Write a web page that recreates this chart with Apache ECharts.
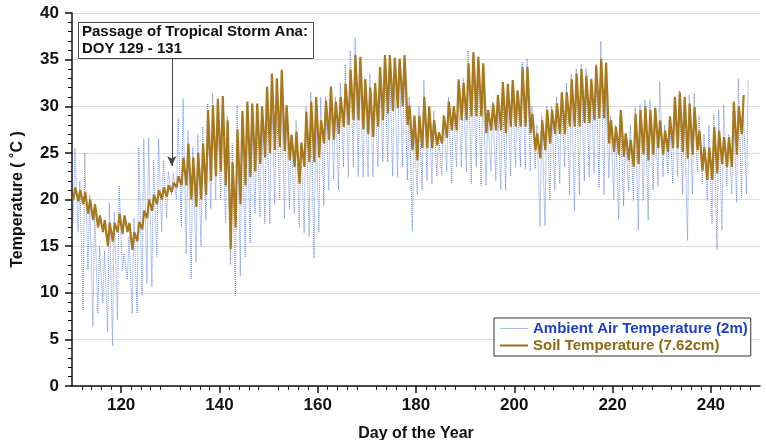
<!DOCTYPE html>
<html>
<head>
<meta charset="utf-8">
<script src="https://cdn.jsdelivr.net/npm/echarts@6/dist/echarts.min.js"></script>
<style>
  html, body { margin: 0; padding: 0; background: #fff; }
  #chart { width: 766px; height: 440px; }
</style>
</head>
<body>
<div id="chart"></div>
<script>
// daily lows / highs, first day = 110
const firstDay = 110;

const airLow = [
  17.5, 16.5, 8.1, 12.5, 6.4, 7.8, 8.9, 5.8, 4.3, 7.1,
  12.4, 11.4, 7.8, 7.8, 9.7, 11, 10.6, 13.9, 16.5, 18,
  20.5, 20, 17, 14.2, 11.5, 13.3, 15, 17.8, 19, 20,
  20, 17.5, 13, 9.6, 11.8, 13.8, 15.3, 18.5, 18.1, 17.4,
  17.4, 19.5, 20, 18, 19, 18.5, 17, 16.4, 16, 13.7,
  16.5, 19.4, 21, 22.2, 21, 23.5, 22.4, 23.5, 22.5, 22.4,
  22.4, 22.4, 23.5, 24, 24, 22.5, 22.4, 23.5, 22.1, 16.6,
  20.5, 21, 22, 21.7, 22.5, 22.6, 23, 21.7, 23.5, 23.5,
  23, 21.7, 23.5, 21.5, 21.5, 23, 22, 21, 21, 22.5,
  23.5, 23.5, 23.3, 23, 23.3, 17.1, 17.2, 19.9, 21, 21.7,
  23.5, 20.5, 18.8, 20.5, 22, 22.4, 22.8, 21.3, 20.5, 22.3,
  20, 17.9, 19.3, 20.9, 19.9, 16.7, 19.9, 17.8, 21, 21.4,
  22.4, 22.8, 21.7, 22.4, 20.6, 15.6, 20.6, 23, 21.7, 19.9,
  17.4, 14.6, 16.7, 21.4, 20.6, 19.7, 20.2, 20.6
];
const airHigh = [
  25.5, 22, 25, 20.5, 19.2, 15, 14.5, 19.6, 18.7, 21.4,
  14.2, 16, 18, 25.6, 26.5, 26.6, 24.2, 26.5, 24.2, 23,
  22.8, 28.7, 30.8, 27.4, 25.6, 27, 27.8, 30.3, 31.4, 30.8,
  29.8, 28.9, 26, 30.1, 29, 30, 29, 28, 29, 31,
  32, 31, 33, 30, 27, 28.5, 26, 30, 31.5, 29,
  31, 31, 32, 31, 32.5, 34.5, 36, 37.4, 35, 33,
  33.5, 32.5, 34, 35, 34.5, 34, 35, 35, 31, 28,
  30, 32.8, 30, 29.5, 27, 29, 31, 30, 32, 33,
  36, 35, 34, 33, 29, 30.5, 31, 32.5, 32, 32.5,
  31.5, 34.8, 35.1, 30, 28, 29, 30, 30, 31, 31.5,
  32.5, 33.5, 34, 34.5, 34, 33, 34.5, 37, 32, 29,
  28, 29.6, 27, 28, 29.9, 30.2, 30.7, 30.7, 30, 32.6,
  28, 29, 31, 31.7, 30, 31.2, 31.4, 29, 27, 28,
  29.2, 29.6, 30.1, 27, 30, 32.9, 30, 32.8
];
const soilLow = [
  20, 19.8, 19.5, 18.5, 17.8, 17, 16.5, 15, 15.5, 16.5,
  16.3, 16.5, 14.6, 15.5, 16.8, 18, 18.8, 19.5, 20, 20.3,
  20.8, 21.3, 21.5, 21.5, 20, 19.2, 20, 20.5, 22, 22.5,
  23, 21.5, 14.7, 17, 19.5, 21.5, 22.4, 23, 23.8, 24.5,
  25, 25.3, 25.6, 25.2, 24.2, 23.5, 21.7, 23.5, 24, 24,
  24.5, 26, 26.4, 26.4, 27, 27.8, 28, 28.5, 28.5, 27.5,
  27, 26.7, 27.8, 28.5, 29.2, 29.5, 29.8, 30, 28, 25.3,
  24.2, 25.5, 25.5, 25.5, 25.8, 26, 26.6, 27.4, 27.4, 28.5,
  28.5, 28.9, 28.9, 28.9, 27.1, 27.4, 27.4, 27.4, 27.1, 27.8,
  27.8, 27.8, 27.8, 27.1, 25.3, 24.4, 25.3, 26, 27, 27,
  27, 27.8, 27.8, 27.8, 28.2, 28.2, 28.5, 28.7, 28.7, 26,
  25.1, 24.8, 24.6, 24.2, 23.5, 23.8, 24.8, 24.2, 24.8, 25.5,
  24.8, 25.1, 25.5, 25.5, 25.1, 24.4, 24.8, 25.3, 23.1, 22.1,
  22.1, 22.8, 23.8, 23.5, 23.5, 24.8, 27
];
const soilHigh = [
  21.3, 21, 20.8, 20, 19.5, 18.3, 17.8, 17.5, 17.5, 18.5,
  18.3, 17.5, 16.5, 17.6, 18.8, 20, 20.5, 21, 21.3, 21.5,
  21.8, 22.5, 24.5, 26, 24.5, 25, 26, 29.6, 30.1, 30.8,
  31.1, 28.5, 24, 27.5, 29.5, 30.5, 30.3, 30.3, 30, 32.1,
  33.5, 33, 33.9, 30.1, 26.9, 27.3, 26.1, 29.4, 30.5, 31,
  28.5, 30.6, 32.1, 30.5, 31, 32.4, 33.9, 35.5, 35.3, 32.9,
  32, 32.5, 34.2, 35.5, 35.5, 35.2, 35.1, 35.5, 30.1, 29,
  29, 31, 30, 28.5, 27.2, 29, 30.5, 30, 32.9, 32.5,
  34.6, 35.8, 35.3, 34.6, 29.6, 30.3, 31.2, 32.6, 32.4, 32.8,
  31.7, 34.2, 34.2, 29.2, 27.1, 28.5, 29.6, 29.6, 30.3, 31.5,
  31.5, 32.9, 33.5, 34, 33.3, 32.9, 34.4, 35.1, 34.7, 28.5,
  27.8, 29.6, 27.1, 26.4, 29.2, 29.6, 30, 29.6, 29.8, 28.5,
  27.4, 28.9, 31, 31.5, 31, 30.3, 29.9, 27.4, 25.6, 25.6,
  27.8, 27.4, 26.7, 26.7, 30.5, 30, 31.2
];

const xTicks = [120, 140, 160, 180, 200, 220, 240];
const yTicks = [0, 5, 10, 15, 20, 25, 30, 35, 40];

// time of day (fraction) of the daily low and high
const airLowAt = 0.25, airHighAt = 0.6;
const soilLowAt = 0.3, soilHighAt = 0.68;

// storm annotation: arrow from box down to the data
const stormDay = 130.3;
const arrowFrom = 35.2, arrowTo = 23.6;

function daily(lo, hi, loAt, hiAt) {
  const out = [];
  lo.forEach((v, i) => {
    out.push([firstDay + i + loAt, v]);
    out.push([firstDay + i + hiAt, hi[i]]);
  });
  return out;
}

const font = '"Liberation Sans", Arial, sans-serif';
const chart = echarts.init(document.getElementById('chart'));

chart.setOption({
  animation: false,
  grid: { left: 72, right: 6, top: 13, bottom: 54, outerBoundsMode: 'none' },
  legend: {
    left: 494,
    top: 318,
    orient: 'vertical',
    backgroundColor: '#fff',
    borderColor: '#333',
    borderWidth: 1,
    padding: [3, 3, 3, 5],
    itemGap: 2,
    itemWidth: 28,
    itemHeight: 15,
    itemStyle: { opacity: 0 },
    textStyle: { fontFamily: font, fontWeight: 'bold', fontSize: 15 },
    data: [
      {
        name: 'Ambient Air Temperature (2m)',
        textStyle: { color: '#1f3fc4' },
        lineStyle: { type: 'solid', color: '#9aaee8', width: 1 }
      },
      {
        name: 'Soil Temperature (7.62cm)',
        textStyle: { color: '#8f6a14' },
        lineStyle: { type: 'solid', color: '#9a7016', width: 2 }
      }
    ]
  },
  xAxis: {
    type: 'value',
    min: 110,
    max: 250,
    interval: 10,
    name: 'Day of the Year',
    nameLocation: 'middle',
    nameGap: 40,
    nameTextStyle: { fontFamily: font, fontWeight: 'bold', fontSize: 16, color: '#111' },
    axisLine: { lineStyle: { color: '#111', width: 1.5 } },
    axisTick: { customValues: xTicks, length: 7, lineStyle: { color: '#111', width: 1.5 } },
    minorTick: { show: true, splitNumber: 5, length: 4, lineStyle: { color: '#111' } },
    axisLabel: { customValues: xTicks, margin: 11, fontFamily: font, fontWeight: 'bold', fontSize: 17, color: '#111' },
    splitLine: { show: false }
  },
  yAxis: {
    type: 'value',
    min: 0,
    max: 40,
    interval: 5,
    name: 'Temperature ( ˚C )',
    nameLocation: 'middle',
    nameGap: 46,
    nameTextStyle: { fontFamily: font, fontWeight: 'bold', fontSize: 16, color: '#111' },
    axisLine: { show: true, lineStyle: { color: '#111', width: 1.5 } },
    axisTick: { customValues: yTicks, length: 7, lineStyle: { color: '#111', width: 1.5 } },
    minorTick: { show: true, splitNumber: 5, length: 4, lineStyle: { color: '#111' } },
    axisLabel: { customValues: yTicks, margin: 13, fontFamily: font, fontWeight: 'bold', fontSize: 17, color: '#111' },
    splitLine: { show: true, lineStyle: { color: '#dcdcdc', width: 1 } }
  },
  graphic: [
    {
      type: 'rect',
      left: 78,
      top: 22,
      z: 100,
      shape: { width: 235, height: 36 },
      style: { fill: '#fff', stroke: '#444', lineWidth: 1 }
    },
    {
      type: 'text',
      left: 82,
      top: 23,
      z: 101,
      style: {
        text: 'Passage of Tropical Storm Ana:\nDOY 129 - 131',
        font: 'bold 15px ' + font,
        lineHeight: 17,
        fill: '#111'
      }
    }
  ],
  series: [
    {
      name: 'Ambient Air Temperature (2m)',
      type: 'line',
      symbol: 'none',
      data: daily(airLow, airHigh, airLowAt, airHighAt),
      itemStyle: { color: '#7f98e6' },
      lineStyle: { color: '#5a7ada', width: 1, type: 'dotted', opacity: 0.85 },
      z: 2
    },
    {
      name: 'Soil Temperature (7.62cm)',
      type: 'line',
      symbol: 'none',
      data: daily(soilLow, soilHigh, soilLowAt, soilHighAt),
      itemStyle: { color: '#a8791c' },
      lineStyle: { color: '#a8791c', width: 2.2 },
      z: 3,
      markLine: {
        silent: true,
        symbol: ['none', 'arrow'],
        symbolSize: [7, 10],
        label: { show: false },
        lineStyle: { color: '#444', width: 1, type: 'solid' },
        data: [[{ coord: [stormDay, arrowFrom] }, { coord: [stormDay, arrowTo] }]]
      }
    }
  ]
});
</script>
</body>
</html>
